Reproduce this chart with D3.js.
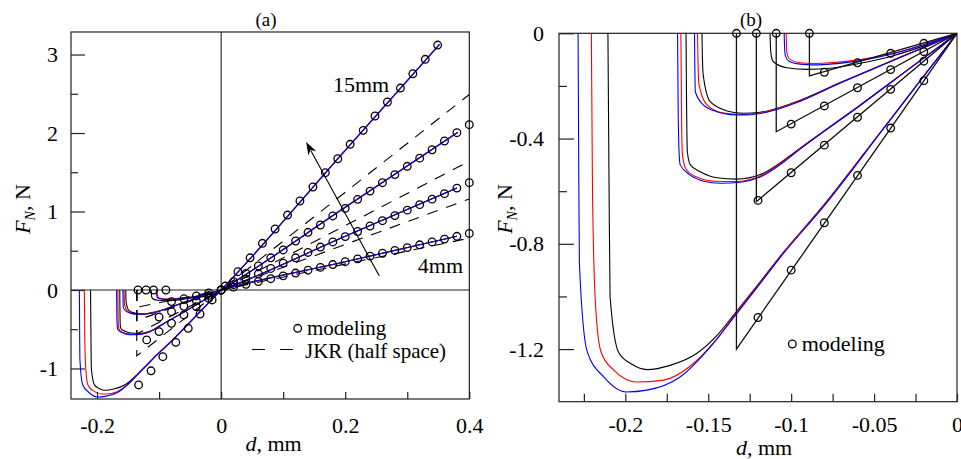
<!DOCTYPE html>
<html>
<head>
<meta charset="utf-8">
<script src="https://cdn.jsdelivr.net/npm/d3@7"></script>
<style>
body { margin: 0; background: #fff; }
svg { display: block; font-family: "Liberation Serif", "Times New Roman", serif; }
</style>
</head>
<body>
<svg id="chart" width="961" height="459"></svg>
<script>
/*globals d3*/

// ---- model curves [d (mm), F (N)], three variants per sphere ----
var black15 = [[-0.2105, 0], [-0.2098, -0.6], [-0.2092, -1.0], [-0.204, -1.213], [-0.196, -1.258], [-0.187, -1.278], [-0.173, -1.262], [-0.157, -1.217], [-0.145, -1.15], [-0.134, -1.065], [-0.12, -0.955], [-0.107, -0.85], [-0.08, -0.65], [-0.046, -0.374], [-0.02, -0.162], [0, 0], [0.2, 1.78], [0.352, 3.13]];
var red15 = [[-0.2205, 0], [-0.2198, -0.6], [-0.218, -1.03], [-0.2147, -1.21], [-0.207, -1.28], [-0.193, -1.325], [-0.177, -1.318], [-0.159, -1.255], [-0.146, -1.17], [-0.134, -1.07], [-0.12, -0.958], [-0.107, -0.852], [-0.08, -0.652], [-0.046, -0.375], [-0.02, -0.162], [0, 0], [0.2, 1.78], [0.352, 3.13]];
var blue15 = [[-0.2285, 0], [-0.2281, -0.5], [-0.2277, -0.875], [-0.223, -1.21], [-0.213, -1.306], [-0.1996, -1.363], [-0.187, -1.356], [-0.167, -1.306], [-0.147, -1.179], [-0.134, -1.075], [-0.12, -0.962], [-0.107, -0.855], [-0.08, -0.655], [-0.046, -0.377], [-0.02, -0.163], [0, 0], [0.2, 1.78], [0.352, 3.13]];

var black2 = [[-0.1634, 0], [-0.1631, -0.25], [-0.1626, -0.45], [-0.1608, -0.50], [-0.1548, -0.526], [-0.1448, -0.549], [-0.1327, -0.554], [-0.1187, -0.537], [-0.1026, -0.474], [-0.0946, -0.437], [-0.06, -0.28], [-0.03, -0.14], [0, 0], [0.2, 1.054], [0.381, 2.006]];
var red2 = [[-0.1665, 0], [-0.1662, -0.25], [-0.1656, -0.46], [-0.1635, -0.515], [-0.157, -0.546], [-0.146, -0.562], [-0.133, -0.563], [-0.1187, -0.542], [-0.1026, -0.477], [-0.0946, -0.438], [-0.06, -0.281], [-0.03, -0.14], [0, 0], [0.2, 1.054], [0.381, 2.006]];
var blue2 = [[-0.1685, 0], [-0.1682, -0.25], [-0.1676, -0.45], [-0.1669, -0.50], [-0.1608, -0.539], [-0.1528, -0.562], [-0.1428, -0.570], [-0.1307, -0.566], [-0.1187, -0.546], [-0.1026, -0.48], [-0.0946, -0.44], [-0.06, -0.282], [-0.03, -0.141], [0, 0], [0.2, 1.054], [0.381, 2.006]];

var black3 = [[-0.1538, 0], [-0.1535, -0.1], [-0.153, -0.16], [-0.1488, -0.26], [-0.1387, -0.295], [-0.1287, -0.304], [-0.1187, -0.300], [-0.0986, -0.264], [-0.07, -0.186], [-0.04, -0.106], [0, 0], [0.2, 0.684], [0.38, 1.298]];
var red3 = [[-0.1565, 0], [-0.1562, -0.1], [-0.1557, -0.19], [-0.151, -0.27], [-0.1415, -0.302], [-0.13, -0.308], [-0.12, -0.304], [-0.0986, -0.266], [-0.07, -0.187], [-0.04, -0.107], [0, 0], [0.2, 0.684], [0.38, 1.298]];
var blue3 = [[-0.1583, 0], [-0.1581, -0.12], [-0.1578, -0.222], [-0.1528, -0.273], [-0.1448, -0.298], [-0.1367, -0.309], [-0.1267, -0.31], [-0.1147, -0.3], [-0.0986, -0.268], [-0.07, -0.188], [-0.04, -0.107], [0, 0], [0.2, 0.684], [0.38, 1.298]];

var black4 = [[-0.1127, 0], [-0.1125, -0.05], [-0.112, -0.085], [-0.1107, -0.108], [-0.1026, -0.131], [-0.0905, -0.137], [-0.0765, -0.133], [-0.0584, -0.114], [-0.0384, -0.085], [-0.0183, -0.044], [0, 0], [0.2, 0.36], [0.38, 0.684]];
var red4 = [[-0.103, 0], [-0.1028, -0.05], [-0.1023, -0.082], [-0.1005, -0.1], [-0.0946, -0.112], [-0.0866, -0.115], [-0.0785, -0.113], [-0.0584, -0.1], [-0.0384, -0.076], [-0.0183, -0.039], [0, 0], [0.2, 0.36], [0.38, 0.684]];
var blue4 = [[-0.1042, 0], [-0.104, -0.05], [-0.1035, -0.085], [-0.1016, -0.105], [-0.0946, -0.117], [-0.0866, -0.12], [-0.0785, -0.118], [-0.0584, -0.104], [-0.0384, -0.078], [-0.0183, -0.04], [0, 0], [0.2, 0.36], [0.38, 0.684]];

// ---- modeling points, panel (a) ----
var mod15a = [[-0.134, 0], [-0.133, -1.21], [-0.113, -1.03], [-0.094, -0.85], [-0.073, -0.667], [-0.053, -0.488], [-0.034, -0.306], [-0.0145, -0.127], [0.0065, 0.05], [0.027, 0.233], [0.0467, 0.41], [0.0666, 0.595], [0.087, 0.777], [0.107, 0.955], [0.127, 1.134], [0.148, 1.312], [0.168, 1.494], [0.188, 1.672], [0.208, 1.856], [0.229, 2.034], [0.248, 2.217], [0.268, 2.395], [0.289, 2.573], [0.309, 2.755], [0.329, 2.939], [0.349, 3.121]];
var mod2a = [[-0.121, 0], [-0.12, -0.636], [-0.10, -0.53], [-0.08, -0.424], [-0.06, -0.318], [-0.04, -0.212], [-0.02, -0.106], [0, 0], [0.02, 0.106], [0.04, 0.21], [0.06, 0.306], [0.08, 0.41], [0.10, 0.51], [0.12, 0.624], [0.14, 0.735], [0.16, 0.828], [0.18, 0.943], [0.20, 1.04], [0.22, 1.155], [0.24, 1.26], [0.26, 1.367], [0.28, 1.47], [0.30, 1.576], [0.32, 1.68], [0.34, 1.787], [0.36, 1.898], [0.38, 2.004], [0.40, 2.106]];
var mod3a = [[-0.109, 0], [-0.10, -0.345], [-0.08, -0.276], [-0.06, -0.207], [-0.04, -0.138], [-0.02, -0.07], [0, 0], [0.02, 0.068], [0.04, 0.137], [0.06, 0.205], [0.08, 0.274], [0.10, 0.342], [0.12, 0.41], [0.14, 0.478], [0.16, 0.547], [0.18, 0.612], [0.20, 0.68], [0.22, 0.745], [0.24, 0.815], [0.26, 0.883], [0.28, 0.948], [0.30, 1.017], [0.32, 1.087], [0.34, 1.157], [0.36, 1.227], [0.38, 1.298], [0.40, 1.367]];
var mod4a = [[-0.089, 0], [-0.08, -0.148], [-0.06, -0.112], [-0.04, -0.076], [-0.02, -0.038], [0, 0], [0.02, 0.036], [0.04, 0.072], [0.06, 0.108], [0.08, 0.144], [0.10, 0.18], [0.12, 0.216], [0.14, 0.252], [0.16, 0.288], [0.18, 0.324], [0.20, 0.36], [0.22, 0.396], [0.24, 0.432], [0.26, 0.468], [0.28, 0.504], [0.30, 0.54], [0.32, 0.576], [0.34, 0.612], [0.36, 0.648], [0.38, 0.684], [0.40, 0.72]];

// ---- modeling, panel (b): jump position, jump force, points ----
var jumpD = [-0.089, -0.109, -0.121, -0.133];
var jumpF = [-0.162, -0.374, -0.64, -1.2];
var pts4b = [[-0.089, 0], [-0.08, -0.148], [-0.06, -0.112], [-0.04, -0.076], [-0.02, -0.038]];
var pts3b = [[-0.109, 0], [-0.10, -0.345], [-0.08, -0.276], [-0.06, -0.207], [-0.04, -0.138], [-0.02, -0.07]];
var pts2b = [[-0.121, 0], [-0.12, -0.635], [-0.10, -0.53], [-0.08, -0.425], [-0.06, -0.319], [-0.04, -0.213], [-0.02, -0.106]];
var pts15b = [[-0.133, 0], [-0.12, -1.08], [-0.10, -0.90], [-0.08, -0.72], [-0.06, -0.54], [-0.04, -0.36], [-0.02, -0.18]];

// ---- JKR half space (dashed), panel (a) ----
var jkr15 = [[-0.136, 0], [-0.136, -0.84], [0, 0], [0.4, 2.49]];
var jkr2 = [[-0.136, 0], [-0.136, -0.56], [0, 0], [0.4, 1.64]];
var jkr3 = [[-0.136, 0], [-0.136, -0.39], [0, 0], [0.4, 1.16]];
var jkr4 = [[-0.136, 0], [-0.136, -0.22], [0, 0], [0.4, 0.66]];

// ---- ticks ----
var xTicksA = [-0.2, -0.1, 0, 0.1, 0.2, 0.3, 0.4];
var xLabelsA = [-0.2, 0, 0.2, 0.4];
var yMajorA = [-1, 0, 1, 2, 3];
var yMinorA = [-0.5, 0.5, 1.5, 2.5];
var xTicksB = [-0.225, -0.2, -0.175, -0.15, -0.125, -0.1, -0.075, -0.05, -0.025, 0];
var xLabelsB = [-0.2, -0.15, -0.1, -0.05, 0];
var yMajorB = [0, -0.4, -0.8, -1.2];
var yMinorB = [-0.2, -0.6, -1.0];

var svg = d3.select("#chart");
var FONT = "'Liberation Serif', 'Times New Roman', serif";

function panel(p) {
    "use strict";
    var x = d3.scaleLinear().domain(p.xDomain).range([p.left, p.right]),
        y = d3.scaleLinear().domain(p.yDomain).range([p.bottom, p.top]),
        g = svg.append("g"),
        ax;

    svg.append("clipPath").attr("id", "clip-" + p.name)
        .append("rect")
        .attr("x", p.left).attr("y", p.top)
        .attr("width", p.right - p.left).attr("height", p.bottom - p.top);

    ax = g.append("g").attr("transform", "translate(0," + p.bottom + ")")
        .call(d3.axisBottom(x).tickValues(p.xTicks).tickSize(-p.xTickLen).tickPadding(p.xPad)
            .tickFormat(function (v) { return p.xLabels.indexOf(v) >= 0 ? String(v) : ""; }));
    ax.select(".domain").remove();

    ax = g.append("g").attr("transform", "translate(" + p.left + ",0)")
        .call(d3.axisLeft(y).tickValues(p.yMajor).tickSize(-p.yMajorLen).tickPadding(p.yPad).tickFormat(String));
    ax.select(".domain").remove();
    ax = g.append("g").attr("transform", "translate(" + p.left + ",0)")
        .call(d3.axisLeft(y).tickValues(p.yMinor).tickSize(-p.yMinorLen).tickFormat(""));
    ax.select(".domain").remove();

    g.selectAll(".tick line").attr("stroke", "#222").attr("stroke-width", 1.2);
    g.selectAll(".tick text").attr("font-family", FONT).attr("font-size", 22).attr("fill", "#000");

    g.append("rect")
        .attr("x", p.left).attr("y", p.top)
        .attr("width", p.right - p.left).attr("height", p.bottom - p.top)
        .attr("fill", "none").attr("stroke", "#222").attr("stroke-width", 1.2);

    var plot = svg.append("g").attr("clip-path", "url(#clip-" + p.name + ")");
    return {x: x, y: y, plot: plot};
}

function drawCurves(P) {
    "use strict";
    var line = d3.line()
        .x(function (d) { return P.x(d[0]); })
        .y(function (d) { return P.y(d[1]); })
        .curve(d3.curveMonotoneX);
    var sets = [
        {c: "#000000", list: [black4, black3, black2, black15]},
        {c: "#ff0000", list: [red4, red3, red2, red15]},
        {c: "#0000ff", list: [blue4, blue3, blue2, blue15]}
    ];
    sets.forEach(function (s) {
        P.plot.selectAll(null).data(s.list).enter().append("path")
            .attr("d", line)
            .attr("fill", "none")
            .attr("stroke", s.c)
            .attr("stroke-width", 1.1);
    });
}

function drawCircles(P, list) {
    "use strict";
    svg.append("g").selectAll("circle").data(list).enter().append("circle")
        .attr("cx", function (d) { return P.x(d[0]); })
        .attr("cy", function (d) { return P.y(d[1]); })
        .attr("r", 3.8)
        .attr("fill", "none")
        .attr("stroke", "#000")
        .attr("stroke-width", 1.3);
}

function yLabel(x, y) {
    "use strict";
    var t = svg.append("text")
        .attr("transform", "translate(" + x + "," + y + ") rotate(-90)")
        .attr("text-anchor", "middle")
        .attr("font-size", 22);
    t.append("tspan").attr("font-style", "italic").text("F");
    t.append("tspan").attr("font-style", "italic").attr("font-size", 14).attr("dy", 5).text("N");
    t.append("tspan").attr("dy", -5).text(", N");
}

function xLabel(x, y) {
    "use strict";
    var t = svg.append("text")
        .attr("x", x).attr("y", y)
        .attr("text-anchor", "middle")
        .attr("font-size", 22);
    t.append("tspan").attr("font-style", "italic").text("d");
    t.append("tspan").text(", mm");
}

// ================= panel (a) =================
var A = panel({
    name: "a", left: 71, right: 469.3, top: 32, bottom: 399,
    xDomain: [-0.242, 0.4], yDomain: [-1.389, 3.287],
    xTicks: xTicksA, xLabels: xLabelsA, xTickLen: 7, xPad: 18,
    yMajor: yMajorA, yMinor: yMinorA, yMajorLen: 14, yMinorLen: 7, yPad: 13
});

A.plot.append("line")
    .attr("x1", A.x(0)).attr("x2", A.x(0)).attr("y1", 32).attr("y2", 399)
    .attr("stroke", "#222").attr("stroke-width", 1.1);
A.plot.append("line")
    .attr("x1", 71).attr("x2", 469.3).attr("y1", A.y(0)).attr("y2", A.y(0))
    .attr("stroke", "#222").attr("stroke-width", 1.1);

drawCurves(A);

var dashLine = d3.line()
    .x(function (d) { return A.x(d[0]); })
    .y(function (d) { return A.y(d[1]); });
A.plot.selectAll(".jkr").data([jkr15, jkr2, jkr3, jkr4]).enter().append("path")
    .attr("class", "jkr")
    .attr("d", dashLine)
    .attr("fill", "none")
    .attr("stroke", "#000")
    .attr("stroke-width", 1.1)
    .attr("stroke-dasharray", "11,9");

[mod15a, mod2a, mod3a, mod4a].forEach(function (m) { drawCircles(A, m); });

// arrow
(function () {
    var x1 = A.x(0.255), y1 = A.y(0.178), x2 = A.x(0.137), y2 = A.y(1.885),
        dx = x2 - x1, dy = y2 - y1, len = Math.sqrt(dx * dx + dy * dy),
        ux = dx / len, uy = dy / len, hl = 13, hw = 4.5,
        bx = x2 - ux * hl, by = y2 - uy * hl;
    svg.append("line").attr("x1", x1).attr("y1", y1).attr("x2", bx + ux * 3).attr("y2", by + uy * 3)
        .attr("stroke", "#000").attr("stroke-width", 1.1);
    svg.append("path")
        .attr("d", "M" + x2 + "," + y2 + "L" + (bx - uy * hw) + "," + (by + ux * hw) +
            "L" + (x2 - ux * hl * 0.7) + "," + (y2 - uy * hl * 0.7) +
            "L" + (bx + uy * hw) + "," + (by - ux * hw) + "Z")
        .attr("fill", "#000");
}());

svg.append("text").attr("x", 333).attr("y", 92).attr("font-size", 22).text("15mm");
svg.append("text").attr("x", 463).attr("y", 273).attr("text-anchor", "end").attr("font-size", 22).text("4mm");

// legend (a)
svg.append("circle").attr("cx", 297.7).attr("cy", 328.3).attr("r", 3.8)
    .attr("fill", "none").attr("stroke", "#000").attr("stroke-width", 1.3);
svg.append("text").attr("x", 307).attr("y", 335).attr("font-size", 21).text("modeling");
svg.append("line").attr("x1", 252).attr("x2", 293).attr("y1", 349.5).attr("y2", 349.5)
    .attr("stroke", "#000").attr("stroke-width", 1.1).attr("stroke-dasharray", "13,15");
svg.append("text").attr("x", 305).attr("y", 358).attr("font-size", 21).text("JKR (half space)");

svg.append("text").attr("x", 266).attr("y", 26).attr("text-anchor", "middle").attr("font-size", 19).text("(a)");
yLabel(30, 209);
xLabel(273.5, 451);

// ================= panel (b) =================
var B = panel({
    name: "b", left: 559, right: 957, top: 33.3, bottom: 401.7,
    xDomain: [-0.24, 0], yDomain: [-1.40, 0],
    xTicks: xTicksB, xLabels: xLabelsB, xTickLen: 8, xPad: 15,
    yMajor: yMajorB, yMinor: yMinorB, yMajorLen: 15, yMinorLen: 8, yPad: 15
});

drawCurves(B);

var jumpPaths = jumpD.map(function (d0, i) { return [[d0, 0], [d0, jumpF[i]], [0, 0]]; });
B.plot.selectAll(".jump").data(jumpPaths).enter().append("path")
    .attr("class", "jump")
    .attr("d", d3.line().x(function (d) { return B.x(d[0]); }).y(function (d) { return B.y(d[1]); }))
    .attr("fill", "none")
    .attr("stroke", "#111")
    .attr("stroke-width", 1.3);

[pts4b, pts3b, pts2b, pts15b].forEach(function (m) { drawCircles(B, m); });

svg.append("circle").attr("cx", 792.3).attr("cy", 344).attr("r", 3.8)
    .attr("fill", "none").attr("stroke", "#000").attr("stroke-width", 1.3);
svg.append("text").attr("x", 801.7).attr("y", 351).attr("font-size", 22).text("modeling");

svg.append("text").attr("x", 751).attr("y", 26).attr("text-anchor", "middle").attr("font-size", 19).text("(b)");
yLabel(512, 209);
xLabel(764, 455);
</script>
</body>
</html>
